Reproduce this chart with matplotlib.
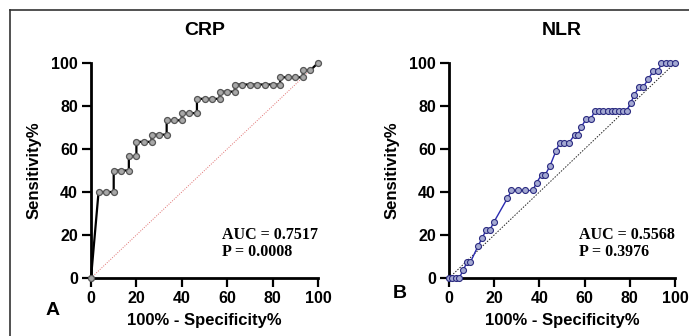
import matplotlib
matplotlib.use("Agg")
import matplotlib.pyplot as plt
from matplotlib.lines import Line2D

# ---- data (percent) ----
crp_fpr = [0, 3.33, 6.67, 10, 10, 13.33, 16.67, 16.67, 20, 20, 23.33, 26.67, 26.67, 30,
           33.33, 33.33, 36.67, 40, 40, 43.33, 46.67, 46.67, 50, 53.33, 56.67, 56.67, 60,
           63.33, 63.33, 66.67, 70, 73.33, 76.67, 80, 83.33, 83.33, 86.67, 90, 93.33,
           93.33, 96.67, 100]
crp_tpr = [0, 40, 40, 40, 50, 50, 50, 56.67, 56.67, 63.33, 63.33, 63.33, 66.67, 66.67,
           66.67, 73.33, 73.33, 73.33, 76.67, 76.67, 76.67, 83.33, 83.33, 83.33, 83.33,
           86.67, 86.67, 86.67, 90, 90, 90, 90, 90, 90, 90, 93.33, 93.33, 93.33, 93.33,
           96.67, 96.67, 100]

nlr_fpr = [0, 1.5, 3, 4.5, 6.3, 8, 9.5, 12.8, 14.6, 16.4, 18, 19.8, 25.8, 27.6, 30.6,
           33.6, 37, 38.8, 41, 42.6, 44.6, 47.4, 49, 51, 53.2, 55.6, 57, 58.6, 60.8, 62.8,
           64.6, 66.4, 68.2, 70.2, 72, 73.6, 75.2, 76.8, 78.6, 80.4, 82, 84.2, 86, 88.2,
           90.4, 92.6, 94, 96, 98, 100]
nlr_tpr = [0, 0, 0, 0, 3.7, 7.4, 7.4, 14.8, 18.5, 22.2, 22.2, 25.9, 37, 40.7, 40.7,
           40.7, 40.7, 44.4, 48.1, 48.1, 51.9, 59.3, 63, 63, 63, 66.7, 66.7, 70.4, 74.1,
           74.1, 77.8, 77.8, 77.8, 77.8, 77.8, 77.8, 77.8, 77.8, 77.8, 81.5, 85.2, 88.9,
           88.9, 92.6, 96.3, 96.3, 100, 100, 100, 100]

titles = ["CRP", "NLR"]
auc_texts = ["AUC = 0.7517\nP = 0.0008", "AUC = 0.5568\nP = 0.3976"]
panel_letters = ["A", "B"]
ticks = [0, 20, 40, 60, 80, 100]

sans = "Liberation Sans"
serif = "Liberation Serif"

fig = plt.figure(figsize=(6.89, 3.36), dpi=100)
ax1 = fig.add_axes([91 / 689, 58 / 336, 227 / 689, 215 / 336])
ax2 = fig.add_axes([449 / 689, 58 / 336, 226 / 689, 215 / 336])

# frame around the figure (right/bottom run off the image)
fig.add_artist(Line2D([10 / 689, 10 / 689], [0, 1 - 10 / 336], color="#333333", lw=1.2))
fig.add_artist(Line2D([10 / 689, 1], [1 - 10 / 336, 1 - 10 / 336], color="#333333", lw=1.2))

# diagonals
ax1.plot([0, 100], [0, 100], color="#e07070", lw=0.7, ls=(0, (1, 1.5)), zorder=2)
ax2.plot([0, 100], [0, 100], color="#222222", lw=0.7, ls=(0, (1.5, 1.5)), zorder=2)

ax1.plot(crp_fpr, crp_tpr, color="black", lw=1.6, marker="o", ms=4.3,
         mfc="#a8a8a8", mec="#555555", mew=0.9, clip_on=False, zorder=3)
ax2.plot(nlr_fpr, nlr_tpr, color="#2a2ab0", lw=1.0, marker="o", ms=4.3,
         mfc="#a4a9d2", mec="#2a2a80", mew=0.8, clip_on=False, zorder=3)

for ax, title, txt, letter in zip([ax1, ax2], titles, auc_texts, panel_letters):
    ax.set_xlim(0, 100)
    ax.set_ylim(0, 100)
    ax.set_xticks(ticks)
    ax.set_yticks(ticks)
    for s in ["top", "right"]:
        ax.spines[s].set_visible(False)
    for s in ["left", "bottom"]:
        ax.spines[s].set_linewidth(2)
    ax.tick_params(width=1.6, length=6.5, labelsize=11.5, pad=3)
    for lab in ax.get_xticklabels() + ax.get_yticklabels():
        lab.set_fontfamily(sans)
        lab.set_fontweight("bold")
    ax.set_xlabel("100% - Specificity%", fontsize=12, fontweight="bold",
                  fontfamily=sans, labelpad=5)
    ax.set_ylabel("Sensitivity%", fontsize=12, fontweight="bold",
                  fontfamily=sans, labelpad=7)
    ax.set_title(title, fontsize=14, fontweight="bold", fontfamily=sans, pad=20)
    ax.text(57.5, 16, txt, fontsize=11.5, fontweight="bold", fontfamily=serif,
            ha="left", va="center", linespacing=1.1, clip_on=False)

ax1.text(-17, -15, "A", fontsize=14, fontweight="bold", fontfamily=sans,
         ha="center", va="center", transform=ax1.transData, clip_on=False)
ax2.text(-22, -7, "B", fontsize=14, fontweight="bold", fontfamily=sans,
         ha="center", va="center", transform=ax2.transData, clip_on=False)

fig.savefig("out.png", dpi=100)
